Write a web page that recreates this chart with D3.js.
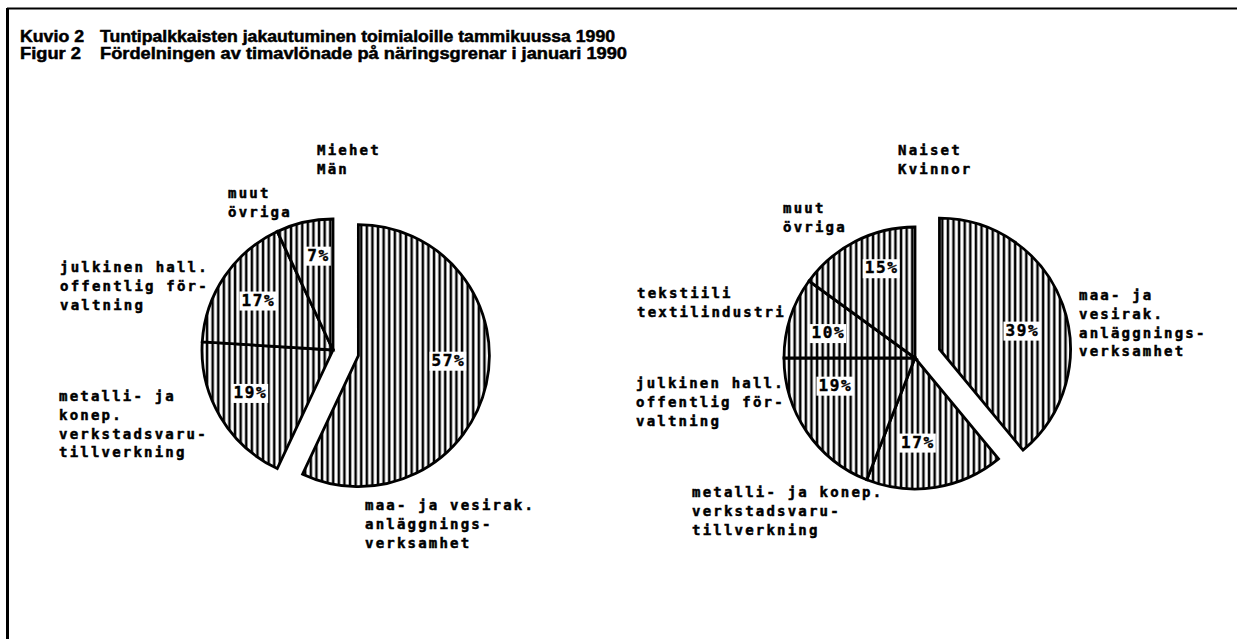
<!DOCTYPE html>
<html>
<head>
<meta charset="utf-8">
<script src="https://cdn.jsdelivr.net/npm/d3@7"></script>
<style>
  body { margin: 0; background: #fff; }
  .lbl { font-family: "DejaVu Sans Mono", monospace; font-weight: bold; font-size: 14px; letter-spacing: 2.2px; fill: #000; stroke: #000; stroke-width: 0.5px; }
  .pct { font-family: "DejaVu Sans Mono", monospace; font-weight: bold; font-size: 16px; letter-spacing: 1.6px; fill: #000; stroke: #000; stroke-width: 0.45px; }
  .ttl { font-family: "Liberation Sans", Arial, sans-serif; font-weight: bold; font-size: 16.5px; fill: #000; stroke: #000; stroke-width: 0.5px; }
</style>
</head>
<body>
<svg id="chart" width="1237" height="639"></svg>
<script>
// data
var menTitle = ["Miehet", "Män"];
var menCategories = ["maa- ja vesirak.", "metalli- ja konep.", "julkinen hall.", "muut"];
var menValues = [57, 19, 17, 7];
var menLabels = [
  ["maa- ja vesirak.", "anläggnings-", "verksamhet"],
  ["metalli- ja", "konep.", "verkstadsvaru-", "tillverkning"],
  ["julkinen hall.", "offentlig för-", "valtning"],
  ["muut", "övriga"]
];

var womenTitle = ["Naiset", "Kvinnor"];
var womenCategories = ["maa- ja vesirak.", "metalli- ja konep.", "julkinen hall.", "tekstiili", "muut"];
var womenValues = [39, 17, 19, 10, 15];
var womenLabels = [
  ["maa- ja", "vesirak.", "anläggnings-", "verksamhet"],
  ["metalli- ja konep.", "verkstadsvaru-", "tillverkning"],
  ["julkinen hall.", "offentlig för-", "valtning"],
  ["tekstiili", "textilindustri"],
  ["muut", "övriga"]
];

// layout (positions kept apart from the data)
var R = 131, explode = 26, lineH = 18.8;
var pies = [
  { cx: 333, cy: 350, values: menValues, labels: menLabels, title: menTitle,
    titlePos: [317, 150],
    labelPos: [[365, 505], [59, 396], [60, 267], [228, 193]],
    pctNudge: [[3, -15], [-6, -3], [-1, 0], [5, -8]] },
  { cx: 915, cy: 358, values: womenValues, labels: womenLabels, title: womenTitle,
    titlePos: [898, 150],
    labelPos: [[1079, 295], [692, 492], [636, 383], [637, 293], [783, 208]],
    pctNudge: [[-1, 11], [-11, -4], [-6, -23], [-2, 2], [7, -11]] }
];

var svg = d3.select('#chart');

// hatch
var defs = svg.append('defs');
var pat = defs.append('pattern')
  .attr('id', 'vhatch')
  .attr('patternUnits', 'userSpaceOnUse')
  .attr('width', 5.6)
  .attr('height', 10);
pat.append('rect').attr('width', 5.6).attr('height', 10).attr('fill', '#fff');
pat.append('rect')
  .attr('x', 1.6).attr('y', 0).attr('width', 2.5).attr('height', 10)
  .attr('fill', '#000');

// frame
svg.append('line').attr('x1', 7).attr('x2', 1237).attr('y1', 8.5).attr('y2', 8.5)
  .attr('stroke', '#000').attr('stroke-width', 2);
svg.append('line').attr('x1', 7.5).attr('x2', 7.5).attr('y1', 8).attr('y2', 639)
  .attr('stroke', '#000').attr('stroke-width', 3);

// titles
svg.append('text').attr('class', 'ttl').attr('x', 20).attr('y', 42)
  .attr('textLength', 64).attr('lengthAdjust', 'spacingAndGlyphs').text('Kuvio 2');
svg.append('text').attr('class', 'ttl').attr('x', 100).attr('y', 42)
  .attr('textLength', 515).attr('lengthAdjust', 'spacingAndGlyphs')
  .text('Tuntipalkkaisten jakautuminen toimialoille tammikuussa 1990');
svg.append('text').attr('class', 'ttl').attr('x', 20).attr('y', 59)
  .attr('textLength', 61).attr('lengthAdjust', 'spacingAndGlyphs').text('Figur 2');
svg.append('text').attr('class', 'ttl').attr('x', 100).attr('y', 59)
  .attr('textLength', 527).attr('lengthAdjust', 'spacingAndGlyphs')
  .text('Fördelningen av timavlönade på näringsgrenar i januari 1990');

var pie = d3.pie().sort(null).value(d => d);
var arc = d3.arc().innerRadius(0).outerRadius(R);
var labelArc = d3.arc().innerRadius(R * 0.68).outerRadius(R * 0.68);

function shift(d, i) {
  if (i !== 0) return [0, 0];
  var mid = (d.startAngle + d.endAngle) / 2;
  return [explode * Math.sin(mid), -explode * Math.cos(mid)];
}

function multiline(g, lines, x, y) {
  var t = g.append('text').attr('class', 'lbl');
  t.selectAll('tspan').data(lines).enter().append('tspan')
    .attr('x', x)
    .attr('y', (l, k) => y + k * lineH)
    .attr('dy', '0.35em')
    .text(l => l);
}

pies.forEach(function (p) {
  var g = svg.append('g').attr('transform', 'translate(' + p.cx + ',' + p.cy + ')');
  var arcs = pie(p.values);

  g.selectAll('path.slice')
    .data(arcs)
    .enter().append('path')
    .attr('class', 'slice')
    .attr('transform', (d, i) => 'translate(' + shift(d, i) + ')')
    .attr('d', arc)
    .attr('fill', 'url(#vhatch)')
    .attr('stroke', '#000')
    .attr('stroke-width', 2.8)
    .attr('stroke-linejoin', 'miter');

  // percent labels with white box
  arcs.forEach(function (d, i) {
    var c = labelArc.centroid(d), s = shift(d, i);
    var x = c[0] + s[0] + p.pctNudge[i][0];
    var y = c[1] + s[1] + p.pctNudge[i][1];
    var lg = g.append('g');
    var bg = lg.append('rect').attr('fill', '#fff');
    var t = lg.append('text').attr('class', 'pct')
      .attr('x', x).attr('y', y).attr('dy', '0.35em')
      .attr('text-anchor', 'middle')
      .text(d.data + '%');
    var b = t.node().getBBox();
    bg.attr('x', b.x - 2).attr('y', b.y + 1).attr('width', b.width + 3).attr('height', b.height);
  });

  // category labels
  p.labels.forEach(function (lines, i) {
    multiline(svg, lines, p.labelPos[i][0], p.labelPos[i][1]);
  });
  multiline(svg, p.title, p.titlePos[0], p.titlePos[1]);
});
</script>
</body>
</html>
